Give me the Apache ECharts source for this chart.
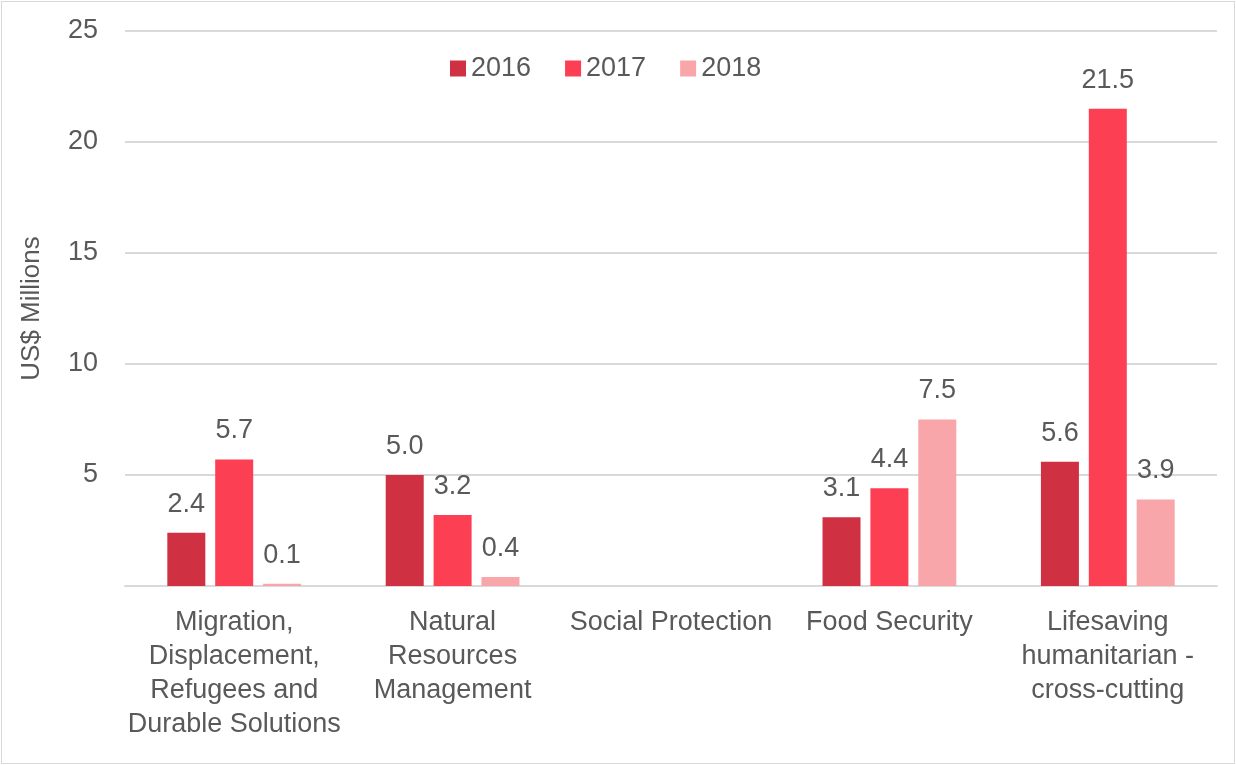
<!DOCTYPE html>
<html>
<head>
<meta charset="utf-8">
<script src="https://cdn.jsdelivr.net/npm/echarts@6/dist/echarts.min.js"></script>
<style>
  html, body { margin: 0; padding: 0; background: #fff; }
  #frame { position: absolute; left: 1px; top: 1px; width: 1232px; height: 761px; border: 1px solid #d9d9d9; }
  #chart { position: absolute; left: 0; top: 0; width: 1236px; height: 765px; }
</style>
</head>
<body>
<div id="frame"></div>
<div id="chart"></div>
<script>
// Funding by sector, US$ millions
const categories = [
  'Migration,\nDisplacement,\nRefugees and\nDurable Solutions',
  'Natural\nResources\nManagement',
  'Social Protection',
  'Food Security',
  'Lifesaving\nhumanitarian -\ncross-cutting'
];
const years = ['2016', '2017', '2018'];
const values2016 = [2.4, 5.0, null, 3.1, 5.6];
const values2017 = [5.7, 3.2, null, 4.4, 21.5];
const values2018 = [0.1, 0.4, null, 7.5, 3.9];
const yTicks = { min: 0, max: 25, interval: 5 };

const colors = ['#cf3142', '#fd3f53', '#f9a6ab'];
const textColor = '#595959';
const fontFamily = '"Liberation Sans", "Helvetica Neue", Arial, sans-serif';
const fontSize = 27;

function barSeries(name, data, color) {
  return {
    name: name,
    type: 'bar',
    data: data,
    barWidth: 38,
    barGap: '26%',
    itemStyle: { color: color },
    label: {
      show: true,
      position: 'top',
      distance: 15,
      color: textColor,
      fontSize: fontSize,
      fontFamily: fontFamily,
      formatter: p => (p.value == null ? '' : p.value.toFixed(1))
    }
  };
}

const chart = echarts.init(document.getElementById('chart'), null, { renderer: 'canvas' });
chart.setOption({
  animation: false,
  backgroundColor: 'transparent',
  textStyle: { fontFamily: fontFamily },
  legend: {
    top: 50,
    left: 445,
    data: years,
    itemWidth: 16,
    itemHeight: 16,
    itemGap: 34,
    icon: 'rect',
    textStyle: { color: textColor, fontSize: fontSize, fontFamily: fontFamily }
  },
  grid: { left: 125, right: 19, top: 31, bottom: 179, containLabel: false },
  xAxis: {
    type: 'category',
    data: categories,
    axisLine: { lineStyle: { color: '#d9d9d9', width: 2 } },
    axisTick: { show: false },
    axisLabel: {
      color: textColor,
      fontSize: fontSize,
      fontFamily: fontFamily,
      lineHeight: 34,
      margin: 20,
      interval: 0
    }
  },
  yAxis: {
    type: 'value',
    min: yTicks.min,
    max: yTicks.max,
    interval: yTicks.interval,
    name: 'US$ Millions',
    nameLocation: 'middle',
    nameGap: 80,
    nameTextStyle: { color: textColor, fontSize: 26, fontFamily: fontFamily },
    axisLine: { show: false },
    axisTick: { show: false },
    axisLabel: {
      color: textColor,
      fontSize: fontSize,
      fontFamily: fontFamily,
      margin: 27,
      formatter: v => (v === 0 ? '' : String(v))
    },
    splitLine: { lineStyle: { color: '#d9d9d9', width: 2 } }
  },
  series: [
    barSeries(years[0], values2016, colors[0]),
    barSeries(years[1], values2017, colors[1]),
    barSeries(years[2], values2018, colors[2])
  ]
});
</script>
</body>
</html>
